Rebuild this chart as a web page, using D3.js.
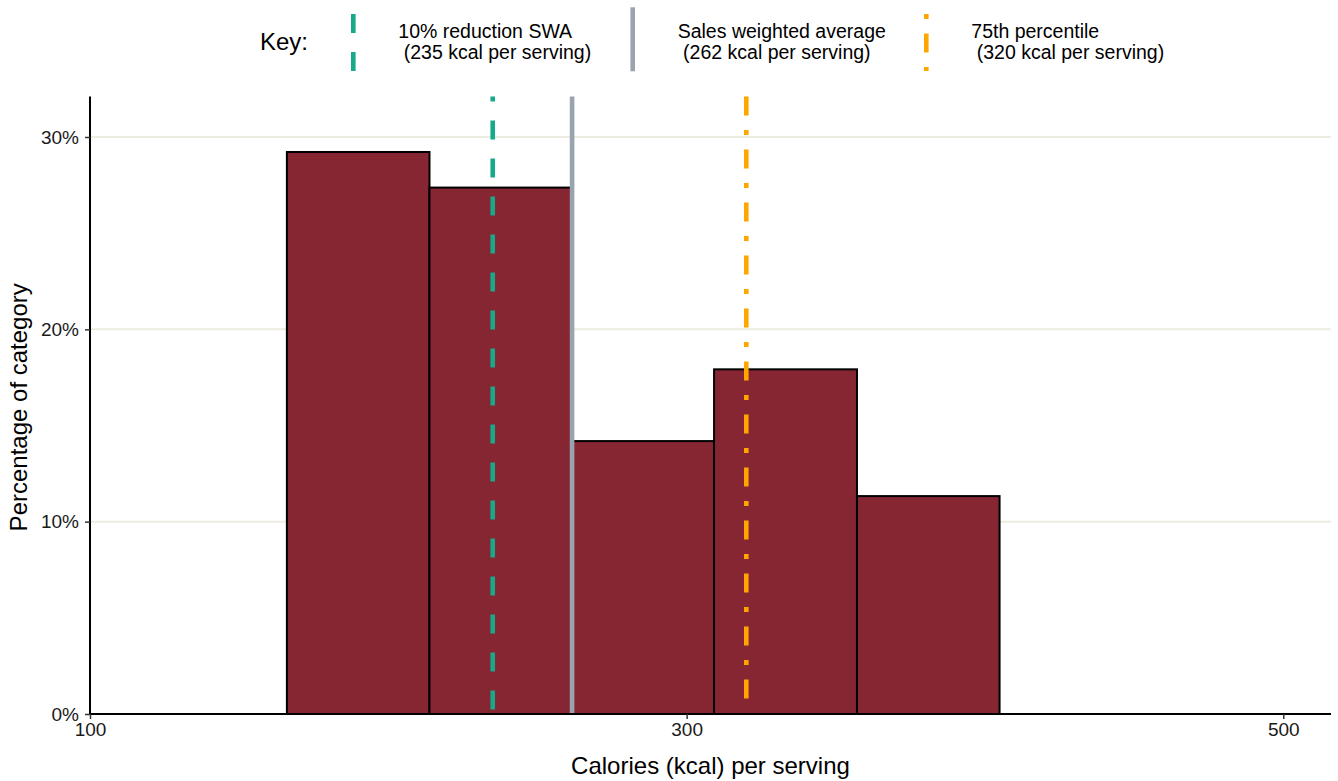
<!DOCTYPE html>
<html>
<head>
<meta charset="utf-8">
<script src="https://cdn.jsdelivr.net/npm/d3@7"></script>
<style>
  html, body { margin: 0; padding: 0; background: #ffffff; }
  svg { display: block; font-family: "Liberation Sans", Arial, sans-serif; }
  text { white-space: pre; }
</style>
</head>
<body>
<svg id="chart" width="1338" height="781"></svg>
<script>
// ---- Data ----
const binStarts = [166, 213.8, 261.4, 309.2, 357.1];
const binEnds   = [213.8, 261.4, 309.2, 357.1, 404.9];
const percentages = [29.22, 27.37, 14.19, 17.92, 11.33];

const refNames  = ["10% reduction SWA", "Sales weighted average", "75th percentile"];
const refKcalLabels = [235, 262, 320];
const refValues = [235, 261.6, 320];
const refColors = ["#17A98A", "#9AA4AE", "#FFA500"];
const refDash   = ["19,19", null, "19,14.5,5,14.5"];

const xTicks = [100, 300, 500];
const yTicks = [0, 10, 20, 30];

const xTitle = "Calories (kcal) per serving";
const yTitle = "Percentage of category";
const keyTitle = "Key:";

// ---- Layout ----
const svg = d3.select("#chart");
const plot = { left: 90, right: 1331, top: 96.6, bottom: 714 };

const x = d3.scaleLinear().domain([100, 516]).range([plot.left, plot.right]);
const y = d3.scaleLinear().domain([0, 32.1]).range([plot.bottom, plot.top]);

// gridlines
svg.append("g").selectAll("line").data(yTicks.filter(d => d > 0)).join("line")
  .attr("x1", plot.left).attr("x2", plot.right)
  .attr("y1", d => y(d)).attr("y2", d => y(d))
  .attr("stroke", "#ECECE0").attr("stroke-width", 2);

// bars
const bins = binStarts.map((s, i) => ({ x0: s, x1: binEnds[i], v: percentages[i] }));
svg.append("g").selectAll("rect").data(bins).join("rect")
  .attr("x", d => x(d.x0))
  .attr("width", d => x(d.x1) - x(d.x0))
  .attr("y", d => y(d.v))
  .attr("height", d => y(0) - y(d.v))
  .attr("fill", "#862633")
  .attr("stroke", "#000").attr("stroke-width", 2);

// reference lines
const refs = refValues.map((v, i) => ({ v, color: refColors[i], dash: refDash[i], i }));
svg.append("g").selectAll("line").data(refs).join("line")
  .attr("x1", d => x(d.v)).attr("x2", d => x(d.v))
  .attr("y1", plot.top).attr("y2", plot.bottom)
  .attr("stroke", d => d.color)
  .attr("stroke-width", 4.6)
  .attr("stroke-dasharray", d => d.dash)
  .attr("stroke-dashoffset", d => d.i === 0 ? 14 : 0);

// axes
const xAxis = d3.axisBottom(x).tickValues(xTicks).tickSize(5).tickPadding(4).tickFormat(d3.format("d"));
const gx = svg.append("g").attr("transform", `translate(0,${plot.bottom})`).call(xAxis);
gx.select(".domain").attr("d", `M${plot.left},0H${plot.right}`).attr("stroke", "#000").attr("stroke-width", 2);
gx.selectAll(".tick line").attr("stroke", "#333").attr("stroke-width", 1.5);
gx.selectAll(".tick text").attr("font-size", 19).attr("fill", "#1a1a1a")
  .attr("font-family", "Liberation Sans, Arial, sans-serif");

const yAxis = d3.axisLeft(y).tickValues(yTicks).tickSize(5).tickPadding(6).tickFormat(d => d + "%");
const gy = svg.append("g").attr("transform", `translate(${plot.left},0)`).call(yAxis);
gy.select(".domain").attr("d", `M0,${plot.top}V${plot.bottom}`).attr("stroke", "#000").attr("stroke-width", 2);
gy.selectAll(".tick line").attr("stroke", "#333").attr("stroke-width", 1.5);
gy.selectAll(".tick text").attr("font-size", 19).attr("fill", "#1a1a1a")
  .attr("font-family", "Liberation Sans, Arial, sans-serif");

// axis titles
svg.append("text").attr("x", (plot.left + plot.right) / 2).attr("y", 774)
  .attr("text-anchor", "middle").attr("font-size", 24).attr("fill", "#000").text(xTitle);
svg.append("text").attr("transform", `translate(27,${(plot.top + plot.bottom) / 2 + 2}) rotate(-90)`)
  .attr("text-anchor", "middle").attr("font-size", 24).attr("fill", "#000").text(yTitle);

// legend
svg.append("text").attr("x", 260).attr("y", 50).attr("font-size", 24).attr("fill", "#000").text(keyTitle);
const legendX = [353.3, 632.7, 926.3];
const legendY = [[14, 71], [7.3, 71.3], [14, 71]];
const legendOffset = [0, 0, 33.5];
const lg = svg.append("g").selectAll("g").data(refs).join("g");
lg.append("line")
  .attr("x1", d => legendX[d.i]).attr("x2", d => legendX[d.i])
  .attr("y1", d => legendY[d.i][0]).attr("y2", d => legendY[d.i][1])
  .attr("stroke", d => d.color).attr("stroke-width", 4.6)
  .attr("stroke-dasharray", d => d.dash)
  .attr("stroke-dashoffset", d => legendOffset[d.i]);
const lt = lg.append("text").attr("font-size", 19.5).attr("fill", "#000");
lt.append("tspan").attr("x", d => legendX[d.i] + 45).attr("y", 37.5).text(d => refNames[d.i]);
lt.append("tspan").attr("x", d => legendX[d.i] + 45).attr("y", 58.5)
  .text(d => " (" + refKcalLabels[d.i] + " kcal per serving)");
</script>
</body>
</html>
